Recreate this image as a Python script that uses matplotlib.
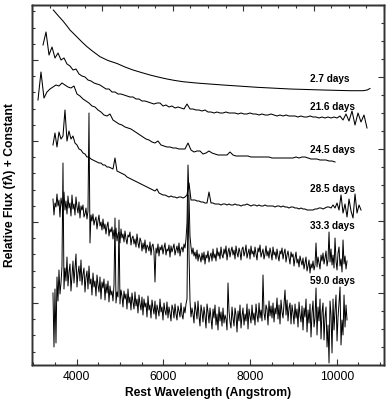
import numpy as np
import matplotlib
matplotlib.use('Agg')
import matplotlib.pyplot as plt
from matplotlib.ticker import MultipleLocator, NullFormatter

plt.rcParams['font.family'] = ['Liberation Sans', 'DejaVu Sans']

# ---------------- data (relative flux + constant, arbitrary units) ----------------
epochs = ['2.7 days', '21.6 days', '24.5 days', '28.5 days', '33.3 days', '59.0 days']
label_flux = [286, 258, 215, 176, 139, 84]
label_wave = 9380

# 2.7 days: smooth spectrum
wave_27 = [3460, 3569, 3684, 3776, 3845, 3915, 4007, 4122, 4238, 4376, 4538, 4722,
           4930, 5114, 5299, 5507, 5691, 5876, 6083, 6268, 6452, 6660, 6844,
           7375, 8160, 8921, 9682, 10305, 10605, 10700, 10766]
flux_27 = [355, 349.5, 344, 339, 335, 332, 328, 323, 318.3, 313.5, 308.3, 304.5,
           301.5, 298, 295, 292.3, 290, 288, 286, 284.5, 283.3, 282.4, 281.7,
           280, 277.7, 276, 275, 274.3, 274.3, 275, 276.5]

# 21.6 days
range_216 = (3223, 10697)
flux_216 = [320, 333, 310, 318, 307, 312, 305, 307, 301, 299,
            295, 296, 291, 289, 288, 285, 284, 282, 281, 280,
            278, 276, 276, 273, 273, 271, 271, 270, 269, 268,
            268, 266, 266, 264, 264, 263, 262, 261, 262, 262,
            259, 260, 258, 259, 257, 258, 257, 256, 261, 256,
            256, 255, 255, 254, 255, 253, 253, 252, 253, 252,
            252, 253, 252, 252, 252, 251, 252, 251, 251, 252,
            251, 251, 250, 251, 250, 250, 251, 250, 249, 250,
            249, 250, 249, 249, 249, 248, 249, 248, 248, 249,
            248, 248, 247, 248, 247, 248, 247, 248, 247, 249,
            245, 251, 244, 254, 240, 252, 243, 250, 237]

# 24.5 days
range_245 = (3107, 9959)
flux_245 = [265, 293, 267, 273, 276, 278, 280, 279, 282, 280,
            278, 277, 279, 271, 269, 266, 264, 262, 259, 258,
            255, 253, 250, 249, 251, 245, 243, 241, 240, 238,
            237, 236, 234, 232, 230, 228, 226, 225, 223, 222,
            224, 220, 219, 218, 218, 217, 217, 216, 216, 216,
            222, 215, 213, 214, 214, 211, 212, 214, 212, 211,
            210, 210, 210, 210, 213, 210, 209, 209, 209, 209,
            209, 208, 208, 208, 208, 208, 208, 208, 207, 207,
            207, 207, 207, 207, 207, 207, 208, 207, 208, 208,
            207, 206, 206, 206, 205, 205, 205, 204, 204, 203]

# 28.5 days
range_285 = (3453, 10559)
flux_285 = [220, 232, 218, 233, 226, 229, 255, 224, 234, 226,
            229, 222, 220, 216, 215, 212, 211, 208, 208, 206,
            205, 204, 203, 202, 202, 200, 200, 198, 198, 197,
            196, 207, 194, 193, 192, 191, 190, 188, 187, 186,
            185, 184, 183, 182, 181, 180, 179, 178, 177, 176,
            175, 174, 176, 172, 171, 170, 170, 169, 168, 169,
            168, 168, 167, 168, 168, 167, 168, 170, 182, 165,
            165, 165, 164, 164, 163, 163, 162, 162, 173, 162,
            162, 161, 161, 161, 160, 161, 161, 160, 161, 160,
            160, 161, 160, 160, 159, 160, 160, 161, 160, 159,
            160, 160, 159, 160, 159, 159, 160, 159, 159, 159,
            159, 158, 159, 159, 158, 159, 158, 158, 157, 158,
            158, 157, 157, 156, 157, 156, 156, 155, 155, 155,
            155, 156, 156, 157, 157, 156, 157, 158, 158, 157,
            160, 157, 162, 155, 170, 152, 161, 148, 166, 154,
            147, 171, 152, 160, 155]

# 33.3 days
range_333 = (3453, 10236)
flux_333 = [166, 150, 162, 158, 171, 159, 165, 148, 167, 161,
            153, 173, 155, 164, 151, 169, 157, 162, 149, 170,
            156, 161, 150, 168, 158, 152, 163, 147, 159, 155,
            160, 148, 151, 157, 146, 154, 252, 122, 150, 144,
            151, 140, 145, 148, 136, 144, 150, 139, 143, 135,
            146, 136, 141, 131, 139, 143, 129, 136, 133, 138,
            126, 135, 128, 137, 124, 131, 133, 122, 136, 127,
            131, 123, 134, 126, 121, 130, 128, 133, 120, 127,
            129, 121, 126, 118, 131, 122, 117, 127, 124, 114,
            122, 116, 125, 112, 120, 118, 114, 123, 110, 119,
            121, 113, 83, 117, 112, 121, 109, 118, 115, 120,
            111, 117, 122, 110, 116, 114, 120, 108, 119, 113,
            117, 121, 110, 115, 119, 112, 122, 109, 116, 118,
            113, 121, 117, 126, 142, 200, 168, 129, 118, 111,
            117, 109, 113, 106, 115, 104, 111, 108, 103, 112,
            105, 113, 101, 110, 107, 114, 103, 109, 112, 104,
            116, 107, 111, 104, 117, 109, 113, 106, 118, 110,
            107, 116, 111, 119, 105, 113, 117, 108, 114, 118,
            110, 115, 106, 119, 112, 108, 117, 113, 105, 116,
            118, 109, 113, 120, 107, 112, 116, 106, 119, 111,
            114, 108, 118, 111, 105, 117, 113, 120, 108, 112,
            116, 106, 111, 119, 109, 114, 107, 117, 112, 105,
            118, 110, 113, 106, 116, 109, 104, 114, 111, 117,
            106, 112, 116, 103, 110, 114, 107, 101, 113, 108,
            111, 99, 107, 113, 102, 106, 98, 109, 104, 100,
            107, 96, 102, 108, 94, 99, 105, 92, 101, 97,
            104, 95, 100, 122, 98, 108, 102, 96, 110, 104,
            112, 101, 107, 114, 99, 105, 133, 103, 116, 100,
            110, 97, 127, 104, 95, 112, 118, 99, 106, 93,
            125, 101, 109, 96, 104]

# 59.0 days
range_590 = (3453, 10236)
flux_590 = [72, 18, 76, 22, 88, 64, 95, 71, 82, 99,
            202, 76, 97, 84, 108, 79, 93, 101, 74, 89,
            104, 82, 96, 111, 78, 92, 99, 84, 105, 80,
            91, 97, 73, 88, 94, 76, 99, 81, 86, 70,
            92, 78, 84, 69, 90, 80, 73, 88, 66, 83,
            77, 86, 65, 81, 72, 84, 63, 79, 70, 74,
            64, 80, 147, 62, 73, 68, 145, 61, 75, 69,
            58, 74, 66, 71, 56, 76, 62, 68, 55, 72,
            63, 56, 73, 59, 66, 52, 70, 61, 55, 68,
            50, 66, 58, 62, 48, 69, 55, 60, 47, 65,
            57, 51, 64, 46, 60, 55, 49, 66, 53, 58,
            45, 62, 54, 50, 63, 47, 58, 52, 44, 60,
            56, 47, 61, 51, 45, 59, 54, 48, 62, 50,
            46, 58, 52, 61, 66, 170, 112, 64, 48, 57,
            51, 42, 63, 54, 46, 64, 49, 39, 60, 53,
            43, 58, 49, 37, 61, 53, 42, 57, 46, 36,
            56, 47, 60, 40, 51, 35, 58, 44, 53, 39,
            57, 42, 50, 46, 35, 82, 54, 43, 37, 58,
            47, 39, 57, 50, 33, 54, 44, 60, 37, 49,
            57, 40, 51, 44, 61, 36, 56, 49, 42, 60,
            45, 52, 40, 61, 50, 43, 62, 47, 55, 44,
            90, 52, 45, 60, 56, 40, 64, 49, 59, 47,
            62, 43, 57, 51, 67, 46, 60, 41, 65, 53,
            47, 61, 75, 50, 65, 44, 57, 62, 41, 60,
            52, 41, 61, 47, 56, 38, 63, 50, 43, 59,
            35, 57, 48, 66, 33, 55, 42, 61, 28, 52,
            64, 38, 47, 77, 30, 58, 44, 66, 26, 53,
            62, 25, 48, 58, 18, 40, 2, 64, 50, 12,
            66, 35, 55, 70, 24, 48, 62, 78, 20, 45,
            30, 70, 38, 60, 45]

# ---------------- figure ----------------
fig = plt.figure(figsize=(3.9, 4.0), dpi=100)
ax = fig.add_axes([32 / 390, 35 / 400, 352 / 390, 360 / 400])

ax.plot(wave_27, flux_27, color='black', lw=0.75)
for rng, fl, lw in [(range_216, flux_216, 0.75), (range_245, flux_245, 0.75),
                    (range_285, flux_285, 0.75), (range_333, flux_333, 0.7),
                    (range_590, flux_590, 0.7)]:
    wl = np.linspace(rng[0], rng[1], len(fl))
    ax.plot(wl, fl, color='black', lw=lw)

for lab, fy in zip(epochs, label_flux):
    ax.text(label_wave, fy, lab, fontsize=7.2, fontweight='bold', va='center', ha='left')

ax.set_xlim(2969, 11089)
ax.set_ylim(0, 360)

ax.xaxis.set_major_locator(MultipleLocator(2000))
ax.xaxis.set_minor_locator(MultipleLocator(500))
ax.yaxis.set_major_locator(MultipleLocator(81, offset=62))
ax.yaxis.set_minor_locator(MultipleLocator(16.2, offset=13.4))
ax.yaxis.set_major_formatter(NullFormatter())

axr = ax.twinx()
axr.set_ylim(0, 5)
axr.yaxis.set_major_locator(MultipleLocator(1))
axr.yaxis.set_minor_locator(MultipleLocator(0.25))
axr.yaxis.set_major_formatter(NullFormatter())

axt = ax.twiny()
axt.set_xlim(0, 5)
axt.xaxis.set_major_locator(MultipleLocator(1))
axt.xaxis.set_minor_locator(MultipleLocator(0.25))
axt.xaxis.set_major_formatter(NullFormatter())

for a in (ax, axr, axt):
    a.tick_params(which='major', direction='in', length=4, width=0.8, color='#333333')
    a.tick_params(which='minor', direction='in', length=2.2, width=0.8, color='#333333')
    for s in a.spines.values():
        s.set_linewidth(1.0)
        s.set_color('#333333')

ax.tick_params(axis='x', labelsize=8.7, pad=4)
ax.set_xlabel('Rest Wavelength (Angstrom)', fontsize=8.7, fontweight='bold', labelpad=3)
ax.set_ylabel('Relative Flux (f\u03bb) + Constant', fontsize=8.7, fontweight='bold', labelpad=8)

fig.savefig('out.png', dpi=100)
